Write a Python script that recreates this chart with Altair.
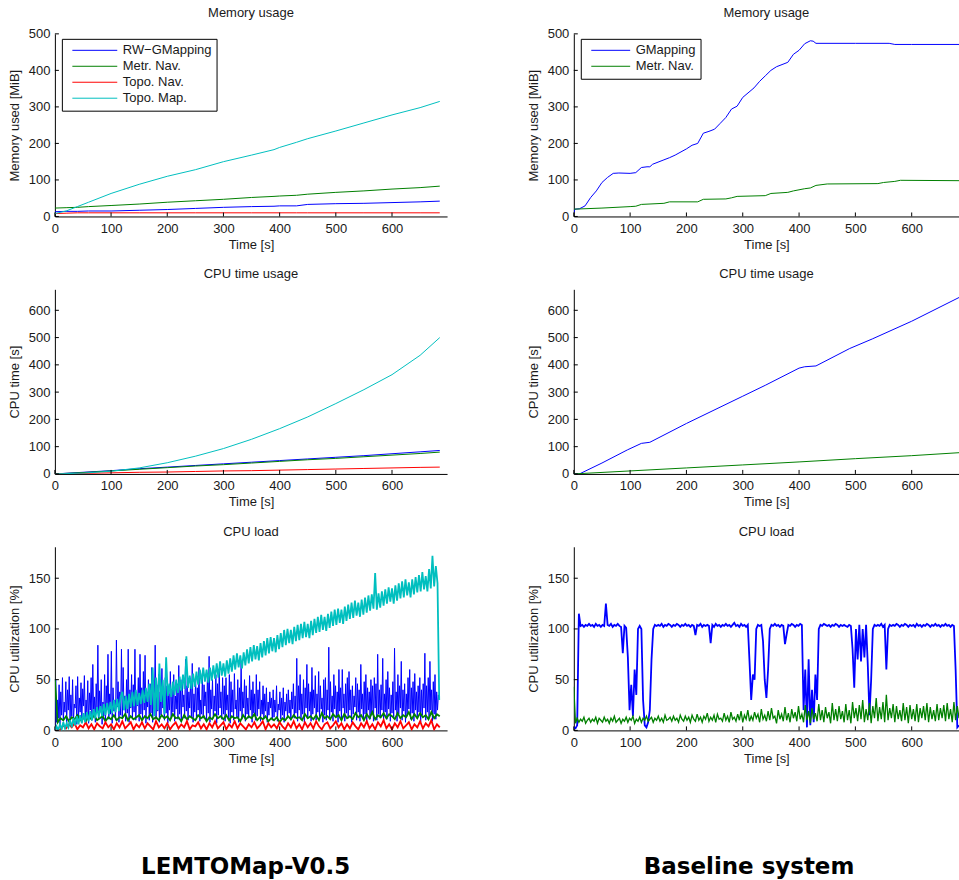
import altair as alt
import pandas as pd

FONT = "Liberation Sans"
TXT = "#1a1a1a"
BLUE, GREEN, RED, CYAN = "#0000ff", "#008000", "#ff0000", "#00bfbf"

NAMES_L = ["RW−GMapping", "Metr. Nav.", "Topo. Nav.", "Topo. Map."]
COLORS_L = [BLUE, GREEN, RED, CYAN]
NAMES_R = ["GMapping", "Metr. Nav."]
COLORS_R = [BLUE, GREEN]

X_TICKS = [0, 100, 200, 300, 400, 500, 600]
MEM_TICKS = [0, 100, 200, 300, 400, 500]
CPU_TICKS = [0, 100, 200, 300, 400, 500, 600]
LOAD_TICKS = [0, 50, 100, 150]

# ---------------- Memory usage, left (LEMTOMap) ----------------
MEM_L_T = [0, 20, 40, 60, 100, 150, 200, 250, 300, 350, 390, 400, 430, 450, 500, 550, 600, 650, 685]
MEM_L_RWG = [13, 14, 14, 15, 15, 17, 19, 22, 25, 27, 28, 29, 29, 33, 35, 36, 38, 40, 42]
MEM_L_METR = [23, 24, 25, 27, 30, 34, 39, 43, 47, 52, 55, 56, 58, 61, 66, 70, 75, 79, 83]
MEM_L_TNAV = [8, 9, 10, 10, 10, 10, 10, 10, 10, 10, 10, 10, 10, 10, 10, 10, 10, 10, 10]
MEM_L_TMAP = [8, 15, 27, 39, 63, 88, 110, 128, 150, 168, 183, 189, 203, 213, 234, 256, 278, 298, 315]

# ---------------- Memory usage, right (baseline) ----------------
MEM_R_GM_T = [0, 2, 10, 20, 30, 40, 50, 60, 70, 80, 100, 110, 120, 130, 135, 140, 160, 170, 180, 200,
              210, 220, 230, 240, 250, 260, 270, 280, 290, 300, 320, 330, 340, 350, 360, 380, 390, 400,
              410, 420, 425, 430, 500, 560, 570, 600, 685]
MEM_R_GM = [10, 20, 21, 29, 52, 70, 93, 107, 118, 119, 118, 120, 134, 136, 136, 143, 155, 161, 168, 185,
            195, 200, 228, 233, 239, 255, 271, 294, 302, 326, 352, 370, 385, 400, 410, 422, 444, 455,
            473, 481, 480, 474, 474, 474, 471, 471, 471]
MEM_R_MN_T = [0, 50, 100, 110, 120, 160, 170, 220, 230, 270, 280, 290, 340, 350, 380, 390, 410, 420,
              430, 450, 540, 550, 570, 580, 685]
MEM_R_MN = [20, 23, 27, 28, 33, 36, 40, 40, 47, 48, 51, 55, 57, 63, 66, 70, 76, 78, 85, 89, 90, 93, 96, 99, 98]

# ---------------- CPU time usage, left ----------------
CPU_L_T = [0, 50, 100, 150, 200, 250, 300, 350, 400, 450, 500, 550, 600, 650, 685]
CPU_L_RWG = [0, 6, 12, 19, 25, 31, 37, 43, 49, 55, 61, 67, 74, 81, 86]
CPU_L_METR = [0, 5, 11, 17, 23, 29, 34, 40, 46, 52, 57, 63, 69, 75, 80]
CPU_L_TNAV = [0, 2, 4, 6, 7, 9, 11, 12, 14, 16, 18, 20, 22, 24, 25]
CPU_L_TMAP = [0, 3, 10, 22, 41, 65, 93, 127, 166, 209, 258, 309, 364, 435, 500]

# ---------------- CPU time usage, right ----------------
CPU_R_GM_T = [0, 10, 50, 95, 120, 135, 200, 300, 320, 340, 400, 410, 430, 490, 530, 600, 685]
CPU_R_GM = [0, 0, 40, 88, 112, 116, 185, 285, 305, 325, 388, 393, 396, 460, 495, 560, 648]
CPU_R_MN_T = [0, 100, 200, 300, 400, 500, 600, 685]
CPU_R_MN = [0, 11, 22, 33, 44, 56, 67, 78]

# ---------------- CPU load, left ----------------
# RW-GMapping, one reading every 1.5 s
LOAD_L_RWG = [
    5, 50, 8, 30, 12, 45, 6, 38, 15, 52, 9, 28, 18, 48, 7, 40, 20, 53, 10, 35,
    14, 50, 8, 26, 22, 44, 6, 53, 12, 32, 18, 47, 9, 41, 24, 54, 11, 30, 16, 49,
    7, 37, 20, 52, 10, 65, 15, 33, 8, 46, 22, 84, 12, 39, 18, 50, 6, 28, 14, 55,
    9, 44, 21, 75, 11, 36, 16, 78, 7, 42, 19, 30, 10, 89, 23, 48, 8, 38, 15, 80,
    12, 62, 20, 34, 9, 50, 17, 80, 8, 40, 22, 55, 11, 45, 18, 80, 10, 36, 24, 52,
    9, 75, 16, 42, 12, 58, 20, 74, 7, 38, 23, 50, 10, 46, 17, 62, 8, 33, 21, 84,
    11, 45, 19, 55, 8, 38, 15, 61, 22, 30, 10, 52, 17, 44, 7, 36, 20, 58, 12, 40,
    18, 55, 9, 34, 21, 46, 11, 64, 16, 40, 8, 50, 23, 35, 12, 70, 19, 44, 10, 38,
    22, 48, 13, 66, 8, 36, 18, 52, 11, 42, 20, 62, 9, 30, 16, 56, 12, 45, 24, 38,
    10, 56, 17, 73, 8, 40, 21, 50, 12, 34, 19, 55, 7, 46, 15, 60, 22, 38, 11, 52,
    16, 44, 9, 52, 20, 35, 12, 55, 7, 48, 18, 40, 10, 56, 21, 30, 13, 50, 8, 42,
    19, 68, 11, 38, 22, 50, 9, 44, 16, 32, 12, 54, 20, 40, 8, 48, 17, 36, 10, 55,
    14, 40, 21, 48, 9, 30, 16, 44, 11, 36, 19, 42, 8, 28, 15, 38, 22, 32, 10, 40,
    13, 30, 18, 44, 9, 26, 20, 38, 11, 32, 15, 42, 8, 28, 19, 36, 12, 40, 17, 30,
    10, 38, 21, 46, 12, 34, 17, 71, 9, 44, 20, 55, 11, 36, 16, 50, 8, 42, 22, 65,
    12, 46, 19, 38, 9, 62, 16, 40, 22, 54, 10, 36, 18, 58, 13, 44, 21, 32, 8, 50,
    15, 52, 10, 40, 20, 82, 12, 48, 18, 34, 9, 55, 21, 44, 14, 38, 8, 60, 19, 42,
    11, 60, 22, 36, 9, 46, 17, 52, 12, 58, 20, 40, 8, 44, 16, 34, 23, 52, 10, 46,
    18, 40, 9, 65, 21, 36, 12, 48, 16, 55, 8, 42, 20, 38, 11, 50, 17, 44, 9, 52,
    22, 46, 10, 75, 16, 40, 12, 45, 20, 71, 8, 36, 18, 50, 11, 58, 21, 42, 9, 35,
    17, 48, 12, 81, 20, 38, 9, 55, 16, 44, 22, 68, 10, 40, 19, 46, 8, 36, 14, 52,
    21, 60, 11, 42, 17, 48, 9, 56, 20, 38, 12, 44, 18, 52, 8, 40, 15, 46, 22, 76,
    10, 44, 18, 52, 12, 68, 20, 40, 9, 48, 16, 55, 11, 38, 20, 35, 30,
]
# Topo. Map., one reading every 3 s
LOAD_L_TMAP = [
    0, 4, 0, 6, 1, 8, 2, 7, 3, 10,
    3, 12, 5, 14, 6, 15, 7, 17, 8, 18,
    9, 19, 10, 21, 12, 23, 13, 24, 14, 26,
    15, 27, 16, 28, 17, 30, 18, 31, 19, 33,
    38, 20, 34, 21, 36, 23, 38, 24, 40, 25,
    37, 26, 40, 27, 42, 28, 46, 25, 62, 14,
    52, 20, 66, 28, 50, 16, 72, 34, 46, 33,
    48, 35, 50, 37, 53, 39, 55, 41, 73, 42,
    54, 41, 56, 43, 58, 45, 60, 46, 62, 48,
    60, 47, 62, 49, 64, 51, 66, 52, 68, 54,
    66, 53, 69, 56, 71, 58, 74, 60, 76, 62,
    74, 61, 77, 64, 80, 66, 82, 68, 84, 70,
    83, 69, 86, 72, 88, 74, 91, 76, 92, 78,
    91, 77, 94, 80, 96, 82, 99, 84, 100, 86,
    99, 85, 102, 88, 104, 89, 105, 91, 107, 92,
    105, 91, 108, 94, 110, 96, 112, 97, 114, 99,
    112, 98, 115, 101, 117, 103, 119, 104, 120, 106,
    119, 105, 122, 108, 124, 110, 126, 111, 128, 113,
    126, 112, 129, 114, 131, 116, 133, 118, 134, 120,
    155, 119, 135, 121, 137, 123, 139, 125, 141, 127,
    140, 125, 143, 128, 145, 130, 147, 131, 149, 133,
    146, 131, 149, 134, 151, 136, 153, 137, 156, 139,
    152, 137, 159, 140, 172, 142, 162, 145, 30,
]
# Metr. Nav. and Topo. Nav., one reading every 5 s
LOAD_L_METR = [
    50, 8, 12, 10, 14, 9, 13, 11, 15, 10,
    13, 9, 14, 11, 15, 10, 12, 14, 9, 13,
    11, 15, 10, 13, 12, 16, 10, 14, 11, 13,
    15, 10, 14, 12, 16, 11, 13, 10, 15, 12,
    14, 10, 16, 12, 13, 9, 15, 11, 14, 12,
    10, 15, 12, 14, 9, 13, 11, 16, 12, 14,
    11, 15, 10, 14, 12, 13, 9, 15, 11, 14,
    12, 16, 10, 13, 11, 14, 9, 12, 10, 13,
    8, 12, 10, 14, 11, 15, 12, 13, 10, 16,
    12, 14, 11, 15, 10, 17, 12, 14, 11, 16,
    13, 15, 10, 16, 12, 14, 11, 17, 13, 15,
    10, 16, 12, 18, 11, 15, 13, 17, 12, 16,
    14, 11, 17, 12, 15, 13, 18, 11, 16, 12,
    17, 13, 15, 11, 18, 12, 16, 14,
]
LOAD_L_TNAV = [
    0, 0, 1, 5, 2, 6, 3, 7, 1, 5,
    3, 8, 2, 6, 1, 7, 4, 2, 8, 3,
    6, 1, 7, 3, 9, 2, 5, 8, 1, 6,
    3, 8, 2, 7, 4, 1, 9, 3, 6, 2,
    7, 1, 5, 8, 2, 6, 3, 9, 1, 5,
    4, 8, 2, 6, 1, 7, 3, 9, 2, 5,
    8, 1, 6, 3, 9, 2, 7, 4, 1, 6,
    3, 8, 2, 5, 9, 1, 7, 3, 6, 2,
    8, 4, 1, 7, 3, 9, 2, 6, 1, 8,
    3, 7, 2, 9, 4, 1, 6, 8, 2, 5,
    9, 3, 7, 1, 6, 2, 8, 4, 1, 7,
    3, 9, 2, 6, 1, 8, 4, 10, 2, 6,
    1, 7, 3, 9, 2, 5, 8, 1, 6, 3,
    9, 2, 7, 4, 10, 1, 6, 3,
]

# ---------------- CPU load, right (one reading every 3 s) ----------------
LOAD_R_GM = [
    3, 2, 5, 115, 103, 104, 102, 104, 103, 105,
    103, 104, 102, 105, 103, 104, 102, 104, 103, 125,
    104, 103, 105, 102, 104, 103, 105, 103, 102, 76,
    103, 101, 72, 20, 45, 14, 60, 35, 100, 103,
    100, 30, 5, 3, 8, 20, 70, 100, 104, 103,
    104, 103, 105, 102, 104, 103, 105, 104, 102, 104,
    103, 105, 104, 102, 104, 103, 105, 103, 104, 102,
    104, 103, 94, 104, 103, 105, 102, 104, 103, 104,
    103, 86, 104, 102, 105, 103, 104, 102, 104, 103,
    105, 103, 104, 102, 104, 106, 103, 104, 102, 105,
    103, 104, 102, 104, 68, 30, 55, 50, 100, 104,
    103, 104, 88, 50, 32, 60, 100, 104, 103, 105,
    103, 104, 102, 104, 103, 85, 95, 104, 103, 105,
    104, 102, 104, 103, 105, 104, 20, 60, 3, 70,
    5, 40, 8, 55, 30, 100, 104, 103, 105, 104,
    103, 104, 102, 104, 103, 105, 104, 102, 104, 103,
    104, 103, 102, 104, 103, 80, 42, 100, 70, 104,
    68, 100, 72, 104, 65, 15, 50, 100, 104, 103,
    104, 103, 105, 102, 104, 60, 100, 104, 103, 104,
    103, 105, 104, 102, 104, 103, 105, 104, 102, 104,
    103, 104, 102, 105, 103, 104, 102, 104, 103, 105,
    104, 102, 104, 103, 105, 103, 104, 102, 104, 103,
    105, 103, 104, 102, 104, 103, 60, 3, 5,
]
LOAD_R_MN = [
    43, 7, 12, 8, 11, 9, 13, 7, 10, 12,
    8, 11, 9, 13, 7, 12, 10, 8, 13, 9,
    11, 7, 12, 9, 14, 8, 10, 12, 7, 11,
    9, 13, 8, 12, 10, 14, 7, 11, 9, 13,
    8, 12, 10, 14, 9, 11, 13, 8, 12, 10,
    14, 9, 12, 8, 15, 10, 11, 13, 9, 14,
    10, 12, 8, 15, 11, 9, 14, 10, 13, 8,
    15, 11, 9, 16, 10, 13, 8, 14, 11, 17,
    9, 13, 10, 15, 8, 16, 11, 12, 9, 17,
    10, 14, 8, 18, 11, 13, 9, 16, 10, 19,
    8, 15, 11, 20, 9, 14, 10, 18, 12, 16,
    8, 21, 11, 15, 9, 19, 10, 22, 12, 14,
    7, 20, 11, 16, 9, 23, 10, 17, 8, 21,
    12, 18, 9, 24, 11, 16, 8, 25, 10, 19,
    7, 22, 11, 17, 9, 26, 10, 20, 8, 23,
    12, 18, 7, 27, 10, 21, 9, 24, 11, 19,
    8, 26, 10, 20, 7, 28, 12, 22, 9, 25,
    11, 30, 8, 21, 10, 27, 7, 24, 12, 32,
    9, 23, 11, 28, 8, 35, 10, 22, 12, 26,
    8, 24, 11, 20, 9, 27, 10, 23, 7, 25,
    11, 21, 9, 26, 8, 22, 12, 24, 10, 27,
    8, 23, 11, 20, 9, 26, 10, 22, 12, 25,
    9, 27, 11, 21, 8, 28, 10, 24, 12,
]


def grid(vals, step):
    return [step * i for i in range(len(vals))]


def make_legend(sym_len):
    return alt.Legend(
        title=None, orient="none", legendX=7, legendY=5,
        symbolType="stroke", symbolSize=sym_len * sym_len, symbolStrokeWidth=1,
        clipHeight=13,
        strokeColor="black", fillColor="white", padding=5, cornerRadius=0,
        labelFont=FONT, labelFontSize=13, labelColor=TXT, labelLimit=300,
        rowPadding=2, symbolOffset=5, labelOffset=5,
    )


def panel(series, names, colors, xmax, w, h, ymax, yticks, title, ytitle, legend, widths):
    xs = alt.Scale(domain=[0, xmax], nice=False, zero=False)
    ys = alt.Scale(domain=[0, ymax], nice=False, zero=False)
    cs = alt.Scale(domain=names, range=colors)
    xa = alt.Axis(title="Time [s]", values=X_TICKS, format="d")
    ya = alt.Axis(title=ytitle, values=yticks, format="d")
    layers = []
    for name, (ts, vs), sw in zip(names, series, widths):
        df = pd.DataFrame({"t": ts, "v": vs, "s": name})
        layers.append(
            alt.Chart(df).mark_line(clip=True, strokeWidth=sw).encode(
                x=alt.X("t:Q", scale=xs, axis=xa),
                y=alt.Y("v:Q", scale=ys, axis=ya),
                color=alt.Color("s:N", scale=cs, legend=legend),
            )
        )
    # inward tick marks (MATLAB style)
    yt = alt.Chart(pd.DataFrame({"v": yticks})).mark_rule(color="black", strokeWidth=1).encode(
        y=alt.Y("v:Q", scale=ys, axis=ya), x=alt.value(0), x2=alt.value(4))
    xt = alt.Chart(pd.DataFrame({"t": X_TICKS})).mark_rule(color="black", strokeWidth=1).encode(
        x=alt.X("t:Q", scale=xs, axis=xa), y=alt.value(h), y2=alt.value(h - 4))
    return alt.layer(*layers, yt, xt).properties(
        width=w, height=h, title=alt.TitleParams(title, offset=8)
    )


XL, WL = 698, 393
XR, WR = 684, 386
H1, H2, H3 = 183, 185, 184

memL = panel([(MEM_L_T, MEM_L_RWG), (MEM_L_T, MEM_L_METR), (MEM_L_T, MEM_L_TNAV), (MEM_L_T, MEM_L_TMAP)],
             NAMES_L, COLORS_L, XL, WL, H1, 500, MEM_TICKS, "Memory usage", "Memory used [MiB]",
             make_legend(45), [1, 1, 1, 1])
cpuL = panel([(CPU_L_T, CPU_L_RWG), (CPU_L_T, CPU_L_METR), (CPU_L_T, CPU_L_TNAV), (CPU_L_T, CPU_L_TMAP)],
             NAMES_L, COLORS_L, XL, WL, H2, 677, CPU_TICKS, "CPU time usage", "CPU time [s]", None,
             [1, 1, 1, 1])
loadL = panel([(grid(LOAD_L_RWG, 1.5), LOAD_L_RWG), (grid(LOAD_L_METR, 5), LOAD_L_METR),
               (grid(LOAD_L_TNAV, 5), LOAD_L_TNAV), (grid(LOAD_L_TMAP, 3), LOAD_L_TMAP)],
              NAMES_L, COLORS_L, XL, WL, H3, 181, LOAD_TICKS, "CPU load", "CPU utilization [%]", None,
              [1, 1.8, 1.8, 1.8])

memR = panel([(MEM_R_GM_T, MEM_R_GM), (MEM_R_MN_T, MEM_R_MN)],
             NAMES_R, COLORS_R, XR, WR, H1, 500, MEM_TICKS, "Memory usage", "Memory used [MiB]",
             make_legend(39), [1, 1])
cpuR = panel([(CPU_R_GM_T, CPU_R_GM), (CPU_R_MN_T, CPU_R_MN)],
             NAMES_R, COLORS_R, XR, WR, H2, 677, CPU_TICKS, "CPU time usage", "CPU time [s]", None, [1, 1])
loadR = panel([(grid(LOAD_R_GM, 3), LOAD_R_GM), (grid(LOAD_R_MN, 3), LOAD_R_MN)],
              NAMES_R, COLORS_R, XR, WR, H3, 181, LOAD_TICKS, "CPU load", "CPU utilization [%]", None,
              [1.8, 1.3])


def col_title(text, dx):
    return alt.TitleParams(text, orient="bottom", anchor="middle", font="DejaVu Sans", fontSize=23,
                           fontWeight="bold", color="black", offset=91, dx=dx)


left = alt.vconcat(memL, cpuL, loadL, spacing=17, title=col_title("LEMTOMap-V0.5", 18)).resolve_scale(
    x="independent", y="independent", color="independent").resolve_legend(color="independent")
right = alt.vconcat(memR, cpuR, loadR, spacing=17, title=col_title("Baseline system", 6)).resolve_scale(
    x="independent", y="independent", color="independent").resolve_legend(color="independent")

chart = alt.hconcat(left, right, spacing=80).resolve_scale(
    x="independent", y="independent", color="independent").resolve_legend(color="independent").properties(
    padding={"left": 8, "top": 6, "right": 0, "bottom": 0}
).configure_view(stroke=None).configure_axis(
    domainColor="black", domainWidth=1, ticks=False, tickSize=0, grid=False,
    labelFont=FONT, labelFontSize=13, labelColor=TXT,
    titleFont=FONT, titleFontSize=13, titleFontWeight="normal", titleColor=TXT,
    labelFlush=False, labelOverlap=False,
).configure_axisX(labelPadding=6, titlePadding=3).configure_axisY(labelPadding=5, titlePadding=7).configure_title(
    font=FONT, fontSize=13, fontWeight="normal", color=TXT
)

chart.save("out.html", embed_options={"renderer": "svg", "actions": False})
